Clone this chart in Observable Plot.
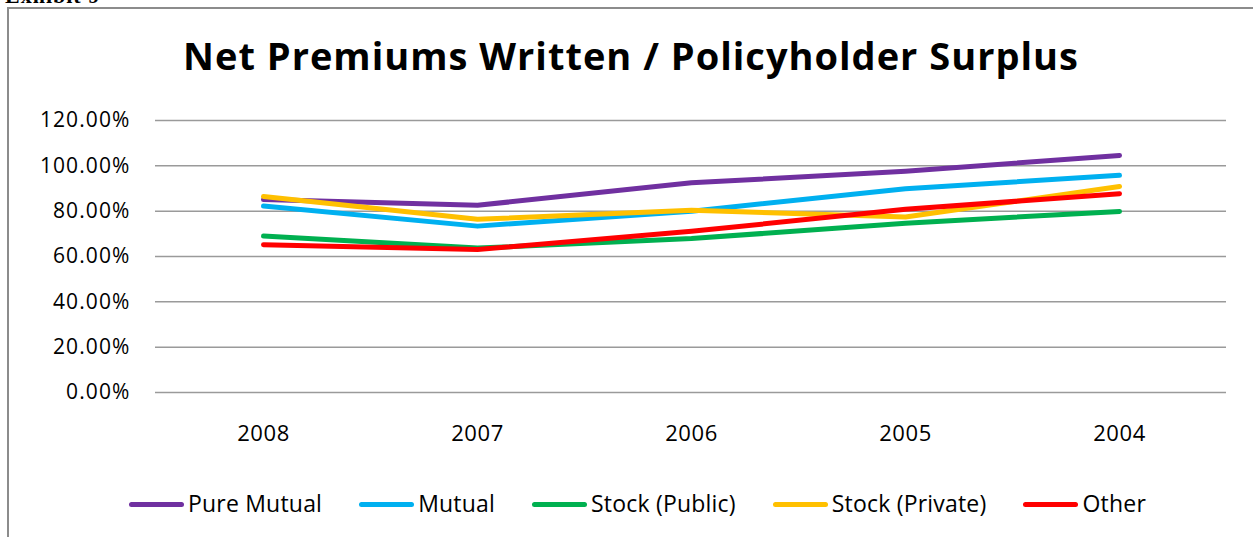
<!DOCTYPE html>
<html>
<head>
<meta charset="utf-8">
<script src="https://cdn.jsdelivr.net/npm/d3@7"></script>
<script src="https://cdn.jsdelivr.net/npm/@observablehq/plot@0.6"></script>
<style>
  html, body { margin: 0; padding: 0; background: #fff; overflow: hidden; }
  body { width: 1253px; height: 537px; position: relative; font-family: "Open Sans", sans-serif; }
  #exhibit { position: absolute; left: 5px; top: -17px; font-family: "Liberation Serif", serif; font-weight: bold; font-size: 22px; color: #000; letter-spacing: 1px; }
  #frame { position: absolute; left: 7px; top: 7px; width: 1300px; height: 600px; border: 2px solid #8c8c8c; box-sizing: border-box; }
  #title { position: absolute; left: 7px; width: 1248px; top: 30px; text-align: center; font-weight: bold; font-size: 38px; line-height: 50px; letter-spacing: 1px; color: #000; }
  #chart { position: absolute; left: 0; top: 90px; }
  #chart g[aria-label="y-axis tick label"] text { letter-spacing: 1.1px; }
  #chart g[aria-label="x-axis tick label"] text { letter-spacing: 0.6px; }
  #legend { position: absolute; left: 129px; top: 488px; height: 30px; display: flex; align-items: center; font-size: 23px; letter-spacing: 0.2px; color: #000; }
  .item { display: flex; align-items: center; margin-right: 37px; }
  .sw { width: 55px; height: 5px; border-radius: 3px; margin-right: 4px; margin-top: 2px; }
</style>
</head>
<body>
<div id="exhibit">Exhibit 9</div>
<div id="frame"></div>
<div id="title">Net Premiums Written / Policyholder Surplus</div>
<div id="chart"></div>
<div id="legend"></div>
<script>
const years = ["2008", "2007", "2006", "2005", "2004"];
const seriesNames = ["Pure Mutual", "Mutual", "Stock (Public)", "Stock (Private)", "Other"];
const seriesColors = ["#7030A0", "#00B0F0", "#00B050", "#FFC000", "#FF0000"];
const pureMutual   = [85.1, 82.6, 92.5, 97.6, 104.6];
const mutual       = [82.3, 73.4, 80.0, 89.9, 95.8];
const stockPublic  = [69.0, 63.7, 67.9, 74.7, 79.9];
const stockPrivate = [86.5, 76.4, 80.4, 77.4, 90.9];
const other        = [65.2, 63.1, 71.1, 80.8, 87.7];
const yTicks = [0, 20, 40, 60, 80, 100, 120];

const seriesValues = [pureMutual, mutual, stockPublic, stockPrivate, other];
const data = [];
seriesNames.forEach((name, i) => {
  years.forEach((yr, j) => data.push({series: name, year: yr, value: seriesValues[i][j]}));
});

const chart = Plot.plot({
  width: 1253,
  height: 370,
  marginTop: 30,
  marginBottom: 68,
  marginLeft: 155,
  marginRight: 27,
  style: {fontFamily: "Open Sans, sans-serif", color: "#000", background: "transparent"},
  x: {type: "point", domain: years, padding: 0.5},
  y: {domain: [0, 120]},
  color: {domain: seriesNames, range: seriesColors},
  marks: [
    Plot.ruleY(yTicks, {stroke: "#9a9a9a", strokeWidth: 1.5}),
    Plot.axisY({ticks: yTicks, tickSize: 0, tickPadding: 25, tickFormat: d => d.toFixed(2) + "%", fontSize: 21, label: null}),
    Plot.axisX({tickSize: 0, tickPadding: 33, fontSize: 22, label: null}),
    Plot.line(data, {x: "year", y: "value", z: "series", stroke: "series", strokeWidth: 5, strokeLinecap: "round", strokeLinejoin: "round"})
  ]
});
document.getElementById("chart").appendChild(chart);

const legend = document.getElementById("legend");
seriesNames.forEach((name, i) => {
  const item = document.createElement("div");
  item.className = "item";
  const sw = document.createElement("div");
  sw.className = "sw";
  sw.style.background = seriesColors[i];
  const label = document.createElement("span");
  label.textContent = name;
  item.appendChild(sw);
  item.appendChild(label);
  legend.appendChild(item);
});
</script>
</body>
</html>
